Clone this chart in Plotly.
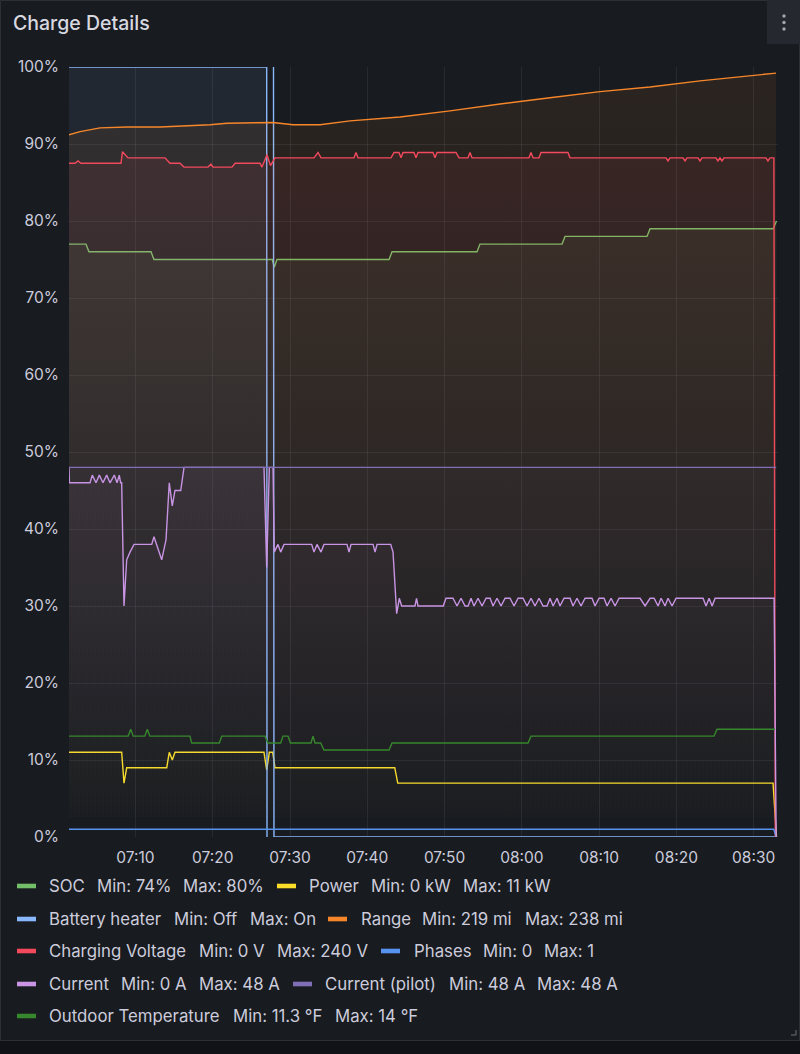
import pandas as pd
import plotly.graph_objects as go

# ---------------- data (times are minutes after 07:00) ----------------
BASE = pd.Timestamp("2024-01-15 07:00:00")

soc_t = [1.39, 3.59, 3.98, 12.01, 12.39, 27.70, 27.96, 28.31, 42.81, 43.20, 54.20, 54.58,
         65.20, 65.59, 76.20, 76.59, 92.51, 92.96]
soc_v = [77, 77, 76, 76, 75, 75, 74, 75, 75, 76, 76, 77, 77, 78, 78, 79, 79, 80]

power_t = [1.39, 8.21, 8.51, 8.86, 14.04, 14.37, 14.76, 15.11, 26.63, 26.98, 27.32, 27.76,
           28.05, 43.55, 43.94, 92.51, 92.96]
power_v = [11, 11, 7, 9, 9, 11, 10, 11, 11, 8.7, 11, 11, 9, 9, 7, 7, 0]

heater_t = [1.39, 26.98, 27.02, 27.40, 27.86, 27.92, 92.91]
heater_v = [100, 100, 0, None, 100, 0, 0]

range_t = [1.39, 2.82, 5.41, 8.90, 13.17, 19.64, 21.84, 27.80, 30.38, 33.88, 37.76, 44.23,
           50.70, 57.17, 63.64, 70.11, 76.58, 83.05, 92.89]
range_v = [91.2, 91.6, 92.1, 92.2, 92.2, 92.5, 92.7, 92.8, 92.5, 92.5, 93.0, 93.5,
           94.3, 95.2, 96.0, 96.8, 97.4, 98.2, 99.2]

volt_t = [1.39, 2.17, 2.56, 2.95, 8.12, 8.32, 9.03, 13.82, 14.46, 15.76, 16.28, 19.38, 19.77,
          20.03, 22.49, 22.88, 26.11, 26.37, 27.02, 27.47, 28.05, 33.10, 33.62, 34.01, 38.28,
          38.54, 38.80, 43.07, 43.46, 44.10, 44.36, 44.62, 46.04, 46.30, 46.56, 48.50, 48.76,
          49.02, 51.48, 51.87, 53.03, 53.29, 53.55, 60.92, 61.18, 61.44, 62.22, 62.48, 65.97,
          66.23, 78.66, 78.92, 79.17, 80.86, 81.12, 81.37, 82.80, 83.05, 83.31, 85.12, 85.38,
          85.64, 85.90, 86.15, 91.59, 91.85, 92.11, 92.62, 92.80]
volt_v = [87.5, 87.5, 87.8, 87.5, 87.5, 89.0, 88.2, 88.2, 87.5, 87.5, 87.0, 87.0, 87.4,
          87.0, 87.0, 87.5, 87.5, 87.0, 88.6, 87.2, 88.2, 88.2, 88.9, 88.2, 88.2,
          88.9, 88.2, 88.2, 88.9, 88.9, 88.2, 88.9, 88.9, 88.2, 88.9, 88.9, 88.2,
          88.9, 88.9, 88.2, 88.2, 88.9, 88.2, 88.2, 88.9, 88.2, 88.2, 88.9, 88.9,
          88.2, 88.2, 87.8, 88.2, 88.2, 87.8, 88.2, 88.2, 87.8, 88.2, 88.2, 87.8,
          88.2, 87.8, 88.2, 88.2, 87.8, 88.2, 88.2, 0]

phases_t = [1.39, 92.60, 92.91]
phases_v = [1, 1, 0]

current_t = [1.39, 1.45, 4.11, 4.41, 4.89, 5.32, 5.79, 6.27, 6.70, 7.26, 7.61, 7.90, 8.08,
             8.21, 8.51, 8.86, 9.29, 9.81, 12.10, 12.39, 13.39, 13.95, 14.37, 14.76, 15.11,
             15.85, 16.28, 26.63, 26.98, 27.32, 27.80, 27.96, 28.44, 28.79, 29.22, 32.80,
             33.10, 33.49, 34.01, 34.39, 37.37, 37.63, 37.89, 40.74, 41.00, 41.26, 43.03,
             43.33, 43.80, 44.14, 44.45, 46.17, 46.37, 46.56, 49.83, 50.18, 51.09, 51.61,
             52.13, 52.65, 53.04, 53.42, 53.81, 54.33, 54.85, 55.37, 55.89, 56.27, 56.79,
             57.31, 57.83, 58.47, 58.99, 59.51, 60.15, 60.67, 61.19, 61.70, 62.22, 62.74,
             63.26, 63.65, 64.04, 64.55, 64.94, 65.46, 66.24, 66.62, 67.14, 67.66, 68.18,
             69.08, 69.47, 69.99, 70.64, 71.03, 71.55, 72.06, 72.58, 75.30, 75.95, 76.59,
             77.11, 77.63, 78.02, 78.53, 78.92, 79.44, 79.96, 83.45, 83.84, 84.23, 84.62,
             85.01, 92.65, 92.91]
current_v = [48, 46, 46, 47, 46, 47, 46, 47, 46, 47, 46, 47, 46,
             46, 30, 36, 37, 38, 38, 39, 36, 38.6, 46, 43, 45,
             45, 48, 48, 35, 48, 48, 37, 38, 37, 38, 38,
             37, 38, 37, 38, 38, 37, 38, 38, 37, 38, 38,
             37, 29, 31, 30, 30, 31, 30, 30, 31, 31, 30,
             31, 30, 30, 31, 30, 31, 30, 31, 31, 30, 31,
             30, 31, 31, 30, 31, 31, 30, 31, 30, 31, 30,
             30, 31, 30, 31, 30, 31, 31, 30, 31, 30, 31,
             31, 30, 31, 31, 30, 31, 30, 31, 31, 30, 31,
             31, 30, 31, 30, 31, 30, 31, 31, 30, 31, 30,
             31, 31, 0]

pilot_t = [1.39, 92.91]
pilot_v = [48, 48]

temp_t = [1.39, 9.05, 9.38, 9.71, 11.20, 11.53, 11.86, 17.05, 17.27, 20.85, 21.16, 26.76,
          27.15, 28.79, 29.09, 29.74, 30.05, 32.71, 32.97, 33.23, 33.97, 34.39, 42.81, 43.20,
          60.80, 61.19, 84.87, 85.26, 92.77]
temp_v = [13.1, 13.1, 14.0, 13.1, 13.1, 14.0, 13.1, 13.1, 12.2, 12.2, 13.1, 13.1,
          12.2, 12.2, 13.1, 13.1, 12.2, 12.2, 13.1, 12.2, 12.2, 11.3, 11.3, 12.2,
          12.2, 13.1, 13.1, 14.0, 14.0]

series_names = ["SOC", "Power", "Battery heater", "Range", "Charging Voltage", "Phases",
                "Current", "Current (pilot)", "Outdoor Temperature"]
series_colors = ["#73BF69", "#FADE2A", "#8AB8FF", "#F7862A", "#F2495C", "#5794F2",
                 "#CA95E5", "#806EB7", "#37872D"]
series_data = [(soc_t, soc_v), (power_t, power_v), (heater_t, heater_v), (range_t, range_v),
               (volt_t, volt_v), (phases_t, phases_v), (current_t, current_v),
               (pilot_t, pilot_v), (temp_t, temp_v)]
series_stats = [("Min: 74%", "Max: 80%"), ("Min: 0 kW", "Max: 11 kW"), ("Min: Off", "Max: On"),
                ("Min: 219 mi", "Max: 238 mi"), ("Min: 0 V", "Max: 240 V"), ("Min: 0", "Max: 1"),
                ("Min: 0 A", "Max: 48 A"), ("Min: 48 A", "Max: 48 A"),
                ("Min: 11.3 °F", "Max: 14 °F")]

x_ticks = [10, 20, 30, 40, 50, 60, 70, 80, 90]
y_ticks = [0, 10, 20, 30, 40, 50, 60, 70, 80, 90, 100]


def to_time(mins):
    return [BASE + pd.Timedelta(minutes=m) for m in mins]


def rgba(hex_color, a):
    h = hex_color.lstrip("#")
    r, g, b = int(h[0:2], 16), int(h[2:4], 16), int(h[4:6], 16)
    return f"rgba({r},{g},{b},{a})"


# ---------------- layout geometry (pixels) ----------------
W, H = 800, 1054
PL, PR, PT, PB = 69, 778, 67, 837
TXT = "#ccccdc"
FONT = "Inter"


def px(x):
    return (x - PL) / (PR - PL)


def py(y):
    return (PB - y) / (PB - PT)


fig = go.Figure()

for name, color, (t, v) in zip(series_names, series_colors, series_data):
    fig.add_trace(go.Scatter(
        x=to_time(t), y=v, name=name, mode="lines",
        line=dict(color=color, width=1.4),
        connectgaps=False,
        fill="tozeroy",
        fillgradient=dict(type="vertical", start=0, stop=100,
                          colorscale=[[0, rgba(color, 0.0)], [1, rgba(color, 0.085)]]),
        showlegend=False, hoverinfo="skip",
    ))

grid = "rgba(204,204,220,0.09)"
fig.update_layout(
    width=W, height=H,
    margin=dict(l=PL, r=W - PR, t=PT, b=H - PB, pad=0),
    paper_bgcolor="#181b1f", plot_bgcolor="#181b1f",
    font=dict(family=FONT, color=TXT),
    xaxis=dict(
        type="date",
        range=[BASE + pd.Timedelta(minutes=1.394), BASE + pd.Timedelta(minutes=93.15)],
        tickmode="array", tickvals=to_time(x_ticks), tickformat="%H:%M",
        showgrid=True, gridcolor=grid, gridwidth=1, zeroline=False, showline=False,
        ticks="", tickfont=dict(family=FONT, size=15.5, color=TXT), ticklabelstandoff=9,
    ),
    yaxis=dict(
        range=[0, 100], tickmode="array", tickvals=y_ticks,
        ticktext=[f"{v}%" for v in y_ticks],
        showgrid=True, gridcolor=grid, gridwidth=1, zeroline=False, showline=False,
        ticks="", tickfont=dict(family=FONT, size=15.5, color=TXT), ticklabelstandoff=9,
    ),
)

annotations = []
shapes = []

# title
annotations.append(dict(xref="paper", yref="paper", x=px(11), y=py(23), xanchor="left",
                        yanchor="middle", showarrow=False, text="Charge Details",
                        font=dict(family=FONT, size=19.5, color="#d8d9e0", weight=500)))

# legend (manual, Grafana style)
legend_layout = [  # (row y, swatch x, name x, min x, max x) per series in order
    (886, 17, 47, 95, 181), (886, 277, 307, 369, 461),
    (919, 17, 47, 172, 248), (919, 328, 359, 420, 523),
    (951, 17, 47, 197, 275), (951, 381, 412, 481, 542),
    (984, 17, 47, 119, 197), (984, 293, 323, 447, 535),
    (1016, 17, 47, 231, 333),
]
for (ry, sx, nx, mnx, mxx), name, color, (smin, smax) in zip(
        legend_layout, series_names, series_colors, series_stats):
    shapes.append(dict(type="rect", xref="paper", yref="paper", x0=px(sx), x1=px(sx + 19),
                       y0=py(ry + 2.3), y1=py(ry - 2.3), fillcolor=color, line=dict(width=0),
                       layer="above"))
    for xx, txt in ((nx, name), (mnx, smin), (mxx, smax)):
        annotations.append(dict(xref="paper", yref="paper", x=px(xx), y=py(ry),
                                xanchor="left", yanchor="middle", showarrow=False, text=txt,
                                font=dict(family=FONT, size=16.8, color=TXT)))

# panel chrome
shapes.append(dict(type="rect", xref="paper", yref="paper", x0=px(0), x1=px(800),
                   y0=py(1054), y1=py(1041), fillcolor="#111217", line=dict(width=0),
                   layer="below"))
shapes.append(dict(type="rect", xref="paper", yref="paper", x0=px(0.5), x1=px(799.5),
                   y0=py(1040.5), y1=py(0.5), line=dict(color="#2c2f35", width=1),
                   fillcolor="rgba(0,0,0,0)", layer="above"))
shapes.append(dict(type="rect", xref="paper", yref="paper", x0=px(767), x1=px(800),
                   y0=py(44), y1=py(0), fillcolor="#25282e", line=dict(width=0),
                   layer="above"))
for dy in (16, 22.5, 29):
    shapes.append(dict(type="circle", xref="paper", yref="paper", x0=px(782.3), x1=px(785.7),
                       y0=py(dy + 1.7), y1=py(dy - 1.7), fillcolor="#a3a6ad",
                       line=dict(width=0), layer="above"))
shapes.append(dict(type="path", xref="paper", yref="paper", layer="above",
                   path=f"M {px(796)} {py(1030)} L {px(796)} {py(1035)} L {px(791)} {py(1035)}",
                   line=dict(color="#6e7077", width=1)))

fig.update_layout(annotations=annotations, shapes=shapes)

fig.write_html("out.html")
